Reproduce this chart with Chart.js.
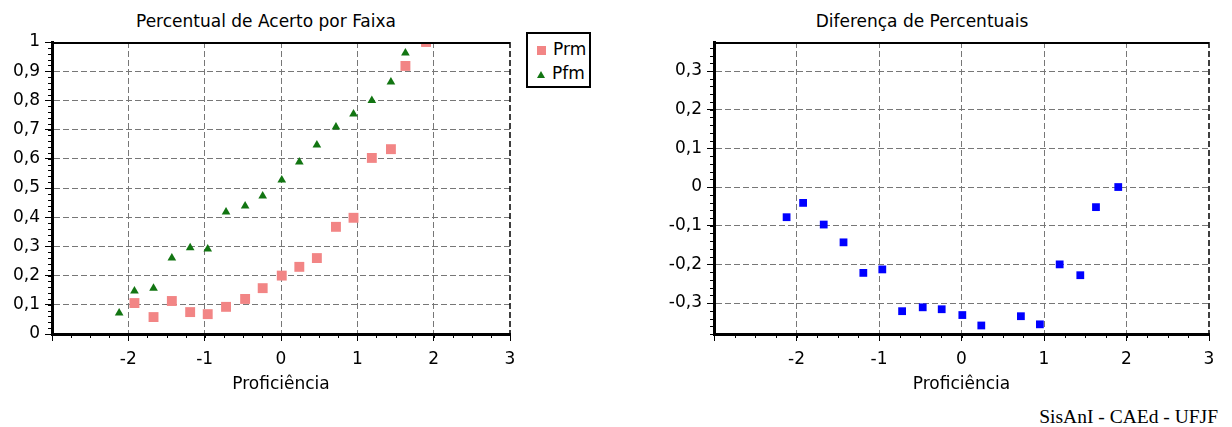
<!DOCTYPE html>
<html lang="pt">
<head>
    <meta charset="UTF-8">
    <title>Percentual de Acerto por Faixa</title>
    <script src="https://cdn.jsdelivr.net/npm/chart.js@4.4.1/dist/chart.umd.min.js"></script>
    <style>
        body {
            margin: 0;
            width: 1232px;
            height: 427px;
            overflow: hidden;
            background: #fff;
            font-family: "DejaVu Sans", sans-serif;
            position: relative;
        }

        .box {
            position: absolute;
            top: 0;
        }

        .title {
            position: absolute;
            top: 11px;
            width: 400px;
            text-align: center;
            font-size: 17px;
            line-height: 20px;
            color: #000;
        }

        #legend {
            position: absolute;
            left: 526px;
            top: 32px;
            width: 61px;
            border: 2px solid #000;
            background: #fff;
            padding: 3px 0 0 0;
            box-sizing: content-box;
            height: 49px;
        }

        #legend div {
            height: 24px;
            line-height: 24px;
            font-size: 17px;
            white-space: nowrap;
        }

        #legend span.mark {
            display: inline-block;
            width: 9px;
            margin: 0 7px 0 9px;
            vertical-align: middle;
        }

        #footer {
            position: absolute;
            right: 14px;
            top: 407px;
            font-family: "Liberation Serif", serif;
            font-size: 19.5px;
            line-height: 1;
        }
    </style>
</head>
<body>
    <div class="title" style="left: 66px;">Percentual de Acerto por Faixa</div>
    <div class="title" style="left: 722px;">Diferença de Percentuais</div>

    <div class="box" style="left: 0;"><canvas id="left" width="620" height="400"></canvas></div>
    <div class="box" style="left: 620px;"><canvas id="right" width="612" height="400"></canvas></div>

    <div id="legend"></div>
    <div id="footer">SisAnI - CAEd - UFJF</div>

    <script>
        // proficiency band centres
        const prof = [-2.12, -1.92, -1.67, -1.43, -1.19, -0.96, -0.72, -0.47, -0.24, 0.01, 0.24, 0.47, 0.72, 0.95, 1.19, 1.44, 1.63, 1.9];
        const prm = [null, 0.106, 0.058, 0.113, 0.075, 0.068, 0.093, 0.12, 0.157, 0.20, 0.23, 0.26, 0.367, 0.398, 0.603, 0.633, 0.918, 1.0];
        const pfm = [0.072, 0.147, 0.157, 0.26, 0.295, 0.291, 0.418, 0.438, 0.473, 0.527, 0.589, 0.647, 0.709, 0.753, 0.80, 0.863, 0.962, 1.0];
        const diff = [-0.078, -0.041, -0.097, -0.143, -0.222, -0.213, -0.321, -0.311, -0.316, -0.331, -0.358, null, -0.334, -0.355, -0.200, -0.228, -0.052, 0.0];

        const xTicks = [-3, -2, -1, 0, 1, 2, 3];
        const leftY = [0, 1];
        const rightY = [-0.38, 0.375];

        const font = { family: "DejaVu Sans", size: 17 };
        const gridGray = '#777777';

        function points(ys) {
            var out = [];
            prof.forEach((x, i) => {
                if (ys[i] !== null) out.push({ x: x, y: ys[i] });
            });
            return out;
        }

        function commaLabel(v) {
            var r = Math.round(v * 10) / 10;
            return r === 0 ? '0' : String(r).replace('.', ',');
        }

        // minor ticks plus the top / right frame
        const frame = {
            id: 'frame',
            afterDraw(chart, args, opts) {
                const { ctx, chartArea: a, scales: { x, y } } = chart;
                ctx.save();
                ctx.strokeStyle = '#000';
                ctx.lineWidth = 1;
                ctx.beginPath();
                for (let v = x.min; v <= x.max + 1e-9; v += opts.xStep) {
                    const px = Math.round(x.getPixelForValue(v)) + 0.5;
                    ctx.moveTo(px, a.bottom);
                    ctx.lineTo(px, a.bottom + 4);
                }
                for (let k = 0; ; k++) {
                    const v = Math.ceil(y.min / opts.yStep) * opts.yStep + k * opts.yStep;
                    if (v > y.max + 1e-9) break;
                    const py = Math.round(y.getPixelForValue(v)) + 0.5;
                    ctx.moveTo(a.left, py);
                    ctx.lineTo(a.left - 4, py);
                }
                ctx.stroke();

                ctx.lineWidth = 2;
                ctx.beginPath();
                ctx.moveTo(a.left, a.top + 1);
                ctx.lineTo(a.right, a.top + 1);
                ctx.stroke();

                ctx.lineWidth = 1.5;
                ctx.setLineDash([6, 3]);
                ctx.beginPath();
                ctx.moveTo(a.right, a.top);
                ctx.lineTo(a.right, a.bottom);
                ctx.stroke();
                ctx.restore();
            }
        };

        function scales(yRange, yWidth) {
            return {
                x: {
                    type: 'linear',
                    min: xTicks[0],
                    max: xTicks[xTicks.length - 1],
                    afterFit: s => { s.height = 66; },
                    ticks: {
                        stepSize: 1,
                        font: font,
                        color: '#000',
                        padding: 8,
                        maxRotation: 0,
                        callback: v => v === xTicks[0] ? '' : String(v)
                    },
                    grid: {
                        color: c => c.tick && c.tick.value === xTicks[xTicks.length - 1] ? 'transparent' : gridGray,
                        tickColor: '#000',
                        tickLength: 7,
                        tickBorderDash: []
                    },
                    border: { color: '#000', width: 3, dash: [6, 3] },
                    title: {
                        display: true,
                        text: 'Proficiência',
                        font: font,
                        color: '#000',
                        padding: { top: 0, bottom: 5 }
                    }
                },
                y: {
                    type: 'linear',
                    min: yRange[0],
                    max: yRange[1],
                    afterFit: s => { s.width = yWidth; },
                    ticks: {
                        stepSize: 0.1,
                        includeBounds: false,
                        font: font,
                        color: '#000',
                        padding: 5,
                        callback: commaLabel
                    },
                    grid: {
                        color: c => c.tick && c.tick.value === 1 ? 'transparent' : gridGray,
                        tickColor: '#000',
                        tickLength: 7,
                        tickBorderDash: []
                    },
                    border: { color: '#000', width: 3, dash: [6, 3] }
                }
            };
        }

        const leftChart = new Chart(document.getElementById('left'), {
            type: 'scatter',
            data: {
                datasets: [
                    {
                        label: 'Prm',
                        data: points(prm),
                        pointStyle: 'rect',
                        pointRadius: 7,
                        backgroundColor: '#f28585',
                        borderWidth: 0,
                        clip: 0
                    },
                    {
                        label: 'Pfm',
                        data: points(pfm),
                        pointStyle: 'triangle',
                        pointRadius: 5,
                        backgroundColor: '#127512',
                        borderWidth: 0,
                        clip: 0
                    }
                ]
            },
            options: {
                responsive: false,
                animation: false,
                layout: { padding: { top: 42, right: 110, left: 0, bottom: 0 } },
                plugins: { legend: { display: false }, tooltip: { enabled: false }, frame: { xStep: 0.25, yStep: 0.02 } },
                scales: scales(leftY, 52)
            },
            plugins: [frame]
        });

        new Chart(document.getElementById('right'), {
            type: 'scatter',
            data: {
                datasets: [
                    {
                        label: 'Diferença',
                        data: points(diff),
                        pointStyle: 'rect',
                        pointRadius: 5.5,
                        backgroundColor: '#0000ff',
                        borderWidth: 0,
                        clip: 0
                    }
                ]
            },
            options: {
                responsive: false,
                animation: false,
                layout: { padding: { top: 42, right: 23, left: 0, bottom: 0 } },
                plugins: { legend: { display: false }, tooltip: { enabled: false }, frame: { xStep: 0.25, yStep: 0.02 } },
                scales: scales(rightY, 94)
            },
            plugins: [frame]
        });

        // legend for the left chart
        var legend = document.getElementById('legend');
        leftChart.data.datasets.forEach(ds => {
            var row = document.createElement('div');
            var mark = document.createElement('span');
            mark.className = 'mark';
            if (ds.pointStyle === 'triangle') {
                mark.style.width = '0';
                mark.style.borderLeft = '4.5px solid transparent';
                mark.style.borderRight = '4.5px solid transparent';
                mark.style.borderBottom = '7px solid ' + ds.backgroundColor;
            } else {
                mark.style.height = '9px';
                mark.style.background = ds.backgroundColor;
            }
            row.appendChild(mark);
            row.appendChild(document.createTextNode(ds.label));
            legend.appendChild(row);
        });
    </script>
</body>
</html>
